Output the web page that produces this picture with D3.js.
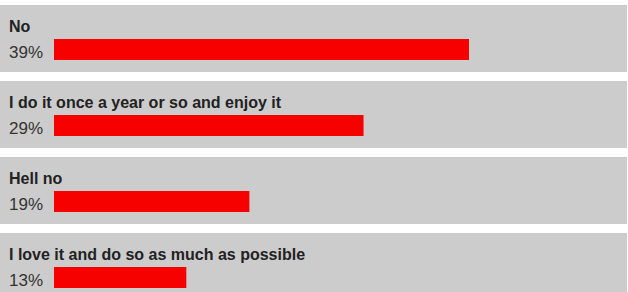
<!DOCTYPE html>
<html>
<head>
<meta charset="utf-8">
<title>Poll results</title>
<script src="https://d3js.org/d3.v7.min.js"></script>
<style>
  body { margin: 0; background: #fff; }
  svg { display: block; }
</style>
</head>
<body>
<svg id="chart" width="628" height="292"></svg>
<script>
// poll answers and their shares (%)
var answers = ["No", "I do it once a year or so and enjoy it", "Hell no", "I love it and do so as much as possible"];
var shares = [39, 29.3, 18.8, 13];
var shareLabels = ["39%", "29%", "19%", "13%"];

var width = 628, height = 292;
var svg = d3.select("#chart");

// one grey panel per answer
var y = d3.scaleBand()
  .domain(answers)
  .range([5, 300])
  .paddingInner(9 / 76);

// bars start after the label, zero point sits a bit left of that
var barStart = 54;
var x = d3.scaleLinear()
  .domain([0, 39])
  .range([45, 469]);

var rows = svg.selectAll("g.row")
  .data(answers)
  .enter()
  .append("g")
  .attr("class", "row")
  .attr("transform", function(d) { return "translate(0," + y(d) + ")"; });

rows.append("rect")
  .attr("x", 0)
  .attr("y", 0)
  .attr("width", 627)
  .attr("height", y.bandwidth())
  .attr("fill", "#cccccc");

rows.append("text")
  .attr("x", 9)
  .attr("y", 27)
  .style("font-family", "'Liberation Sans', Arial, sans-serif")
  .style("font-weight", "bold")
  .style("font-size", "16px")
  .attr("fill", "#222")
  .text(function(d) { return d; });

rows.append("text")
  .attr("x", 9)
  .attr("y", 53)
  .style("font-family", "'Liberation Sans', Arial, sans-serif")
  .style("font-size", "17px")
  .attr("fill", "#333")
  .text(function(d, i) { return shareLabels[i]; });

rows.append("rect")
  .attr("x", barStart)
  .attr("y", 34)
  .attr("width", function(d, i) { return x(shares[i]) - barStart; })
  .attr("height", 21)
  .attr("fill", "#f70000");
</script>
</body>
</html>
